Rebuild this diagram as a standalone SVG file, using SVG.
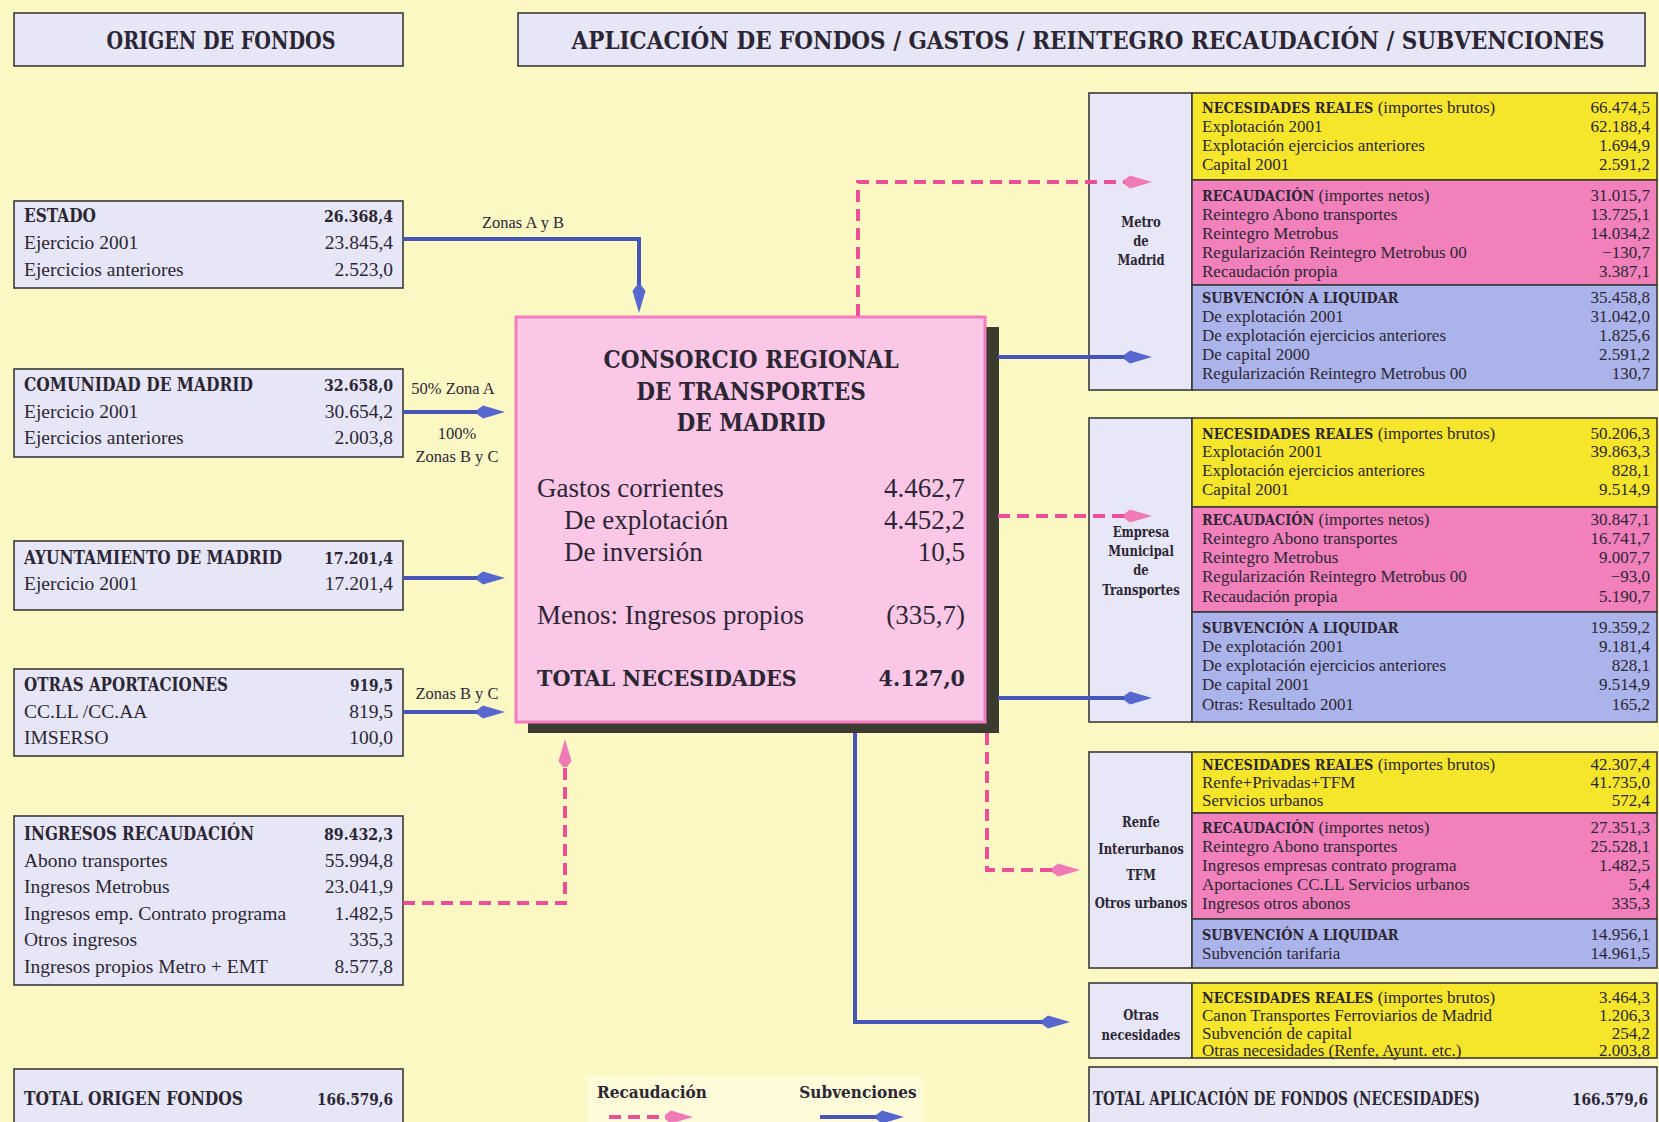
<svg xmlns="http://www.w3.org/2000/svg" width="1659" height="1122" viewBox="0 0 1659 1122">
<style>
text{fill:#2c2634}
.b{font-family:"DejaVu Serif Condensed","DejaVu Serif",serif;font-weight:bold;font-stretch:condensed}
.r{font-family:"Liberation Serif","Times New Roman",serif}
.lb{font-size:18.5px}
.lv{font-size:17.5px}
.lr{font-size:19.5px}
.rr{font-size:17px}
.rb{font-size:14.3px}
.cl{font-size:15px}
.end{text-anchor:end}
.mid{text-anchor:middle}
.box{fill:#e6e6f7;stroke:#3a3a3a;stroke-width:1.6}
.lab{fill:#e8e7f7;stroke:#3a3a3a;stroke-width:1.6}
.yel{fill:#f6e62b;stroke:#3a3a3a;stroke-width:1.6}
.pnk{fill:#f280bb;stroke:#3a3a3a;stroke-width:1.6}
.blu{fill:#aab3ea;stroke:#3a3a3a;stroke-width:1.6}
.sub{stroke:#4655b8;stroke-width:4;fill:none;marker-end:url(#hb)}
.rec{stroke:#ec4f97;stroke-width:4;fill:none;stroke-dasharray:12 7;marker-end:url(#hp)}
</style>
<defs>
<marker id="hb" markerUnits="userSpaceOnUse" viewBox="0 -8 28 16" markerWidth="28" markerHeight="16" refX="0" refY="0" orient="auto"><path d="M0,-2 L6,-6.5 L28,0 L6,6.5 L0,2 z" fill="#5668cf"/></marker>
<marker id="hp" markerUnits="userSpaceOnUse" viewBox="0 -8 28 16" markerWidth="28" markerHeight="16" refX="0" refY="0" orient="auto"><path d="M0,-2 L6,-6.5 L28,0 L6,6.5 L0,2 z" fill="#f07ab6"/></marker>
</defs>
<rect width="1659" height="1122" fill="#fcf8c4"/>

<g id="title-origen">
<rect class="box" x="14" y="13" width="389" height="53"/>
<text class="b mid" x="221" y="49" font-size="24" textLength="229" lengthAdjust="spacingAndGlyphs">ORIGEN DE FONDOS</text>
</g>
<g id="title-aplicacion">
<rect class="box" x="518" y="13" width="1127" height="53"/>
<text class="b mid" x="1088" y="49" font-size="24" textLength="1033" lengthAdjust="spacingAndGlyphs">APLICACIÓN DE FONDOS / GASTOS / REINTEGRO RECAUDACIÓN / SUBVENCIONES</text>
</g>

<g id="estado">
<rect class="box" x="14" y="201" width="389" height="87"/>
<text class="b lb" x="24" y="222" textLength="72" lengthAdjust="spacingAndGlyphs">ESTADO</text><text class="b lv end" x="393" y="222" textLength="69" lengthAdjust="spacingAndGlyphs">26.368,4</text>
<text class="r lr" x="24" y="249">Ejercicio 2001</text><text class="r lr end" x="393" y="249">23.845,4</text>
<text class="r lr" x="24" y="276">Ejercicios anteriores</text><text class="r lr end" x="393" y="276">2.523,0</text>
</g>
<g id="comunidad">
<rect class="box" x="14" y="369" width="389" height="88"/>
<text class="b lb" x="24" y="391" textLength="229" lengthAdjust="spacingAndGlyphs">COMUNIDAD DE MADRID</text><text class="b lv end" x="393" y="391" textLength="69" lengthAdjust="spacingAndGlyphs">32.658,0</text>
<text class="r lr" x="24" y="418">Ejercicio 2001</text><text class="r lr end" x="393" y="418">30.654,2</text>
<text class="r lr" x="24" y="444">Ejercicios anteriores</text><text class="r lr end" x="393" y="444">2.003,8</text>
</g>
<g id="ayuntamiento">
<rect class="box" x="14" y="541" width="389" height="69"/>
<text class="b lb" x="24" y="564" textLength="258" lengthAdjust="spacingAndGlyphs">AYUNTAMIENTO DE MADRID</text><text class="b lv end" x="393" y="564" textLength="69" lengthAdjust="spacingAndGlyphs">17.201,4</text>
<text class="r lr" x="24" y="590">Ejercicio 2001</text><text class="r lr end" x="393" y="590">17.201,4</text>
</g>
<g id="otras-aportaciones">
<rect class="box" x="14" y="669" width="389" height="87"/>
<text class="b lb" x="24" y="691" textLength="204" lengthAdjust="spacingAndGlyphs">OTRAS APORTACIONES</text><text class="b lv end" x="393" y="691" textLength="43" lengthAdjust="spacingAndGlyphs">919,5</text>
<text class="r lr" x="24" y="718">CC.LL /CC.AA</text><text class="r lr end" x="393" y="718">819,5</text>
<text class="r lr" x="24" y="744">IMSERSO</text><text class="r lr end" x="393" y="744">100,0</text>
</g>
<g id="ingresos-recaudacion">
<rect class="box" x="14" y="816" width="389" height="169"/>
<text class="b lb" x="24" y="840" textLength="230" lengthAdjust="spacingAndGlyphs">INGRESOS RECAUDACIÓN</text><text class="b lv end" x="393" y="840" textLength="69" lengthAdjust="spacingAndGlyphs">89.432,3</text>
<text class="r lr" x="24" y="867">Abono transportes</text><text class="r lr end" x="393" y="867">55.994,8</text>
<text class="r lr" x="24" y="893">Ingresos Metrobus</text><text class="r lr end" x="393" y="893">23.041,9</text>
<text class="r lr" x="24" y="920">Ingresos emp. Contrato programa</text><text class="r lr end" x="393" y="920">1.482,5</text>
<text class="r lr" x="24" y="946">Otros ingresos</text><text class="r lr end" x="393" y="946">335,3</text>
<text class="r lr" x="24" y="973">Ingresos propios Metro + EMT</text><text class="r lr end" x="393" y="973">8.577,8</text>
</g>
<g id="total-origen">
<rect class="box" x="14" y="1069" width="389" height="70"/>
<text class="b lb" x="24" y="1105" textLength="219" lengthAdjust="spacingAndGlyphs">TOTAL ORIGEN FONDOS</text><text class="b lv end" x="393" y="1105" textLength="76" lengthAdjust="spacingAndGlyphs">166.579,6</text>
</g>

<g id="consorcio">
<rect x="528" y="327" width="471" height="406" fill="#3b3b30"/>
<rect x="516" y="317" width="469" height="405" fill="#fbc7e6" stroke="#f27cbf" stroke-width="3"/>
<text class="b mid" x="751" y="368" font-size="24">CONSORCIO REGIONAL</text>
<text class="b mid" x="751" y="400" font-size="24">DE TRANSPORTES</text>
<text class="b mid" x="751" y="431" font-size="24">DE MADRID</text>
<text class="r" x="537" y="497" font-size="27">Gastos corrientes</text><text class="r end" x="965" y="497" font-size="27">4.462,7</text>
<text class="r" x="564" y="529" font-size="27">De explotación</text><text class="r end" x="965" y="529" font-size="27">4.452,2</text>
<text class="r" x="564" y="561" font-size="27">De inversión</text><text class="r end" x="965" y="561" font-size="27">10,5</text>
<text class="r" x="537" y="624" font-size="27">Menos: Ingresos propios</text><text class="r end" x="965" y="624" font-size="27">(335,7)</text>
<text class="b" x="537" y="686" font-size="23">TOTAL NECESIDADES</text><text class="b end" x="965" y="686" font-size="23">4.127,0</text>
</g>

<g id="metro">
<rect class="lab" x="1089" y="93" width="103" height="297"/>
<rect class="yel" x="1192" y="93" width="465" height="87"/>
<rect class="pnk" x="1192" y="180" width="465" height="105"/>
<rect class="blu" x="1192" y="285" width="465" height="105"/>
<text class="b cl mid" transform="translate(1141,227) scale(0.86,1)">Metro</text>
<text class="b cl mid" transform="translate(1141,246) scale(0.86,1)">de</text>
<text class="b cl mid" transform="translate(1141,265) scale(0.86,1)">Madrid</text>
<text class="r rr" x="1202" y="113"><tspan class="b rb">NECESIDADES REALES</tspan> (importes brutos)</text><text class="r rr end" x="1650" y="113">66.474,5</text>
<text class="r rr" x="1202" y="132">Explotación 2001</text><text class="r rr end" x="1650" y="132">62.188,4</text>
<text class="r rr" x="1202" y="151">Explotación ejercicios anteriores</text><text class="r rr end" x="1650" y="151">1.694,9</text>
<text class="r rr" x="1202" y="170">Capital 2001</text><text class="r rr end" x="1650" y="170">2.591,2</text>
<text class="r rr" x="1202" y="201"><tspan class="b rb">RECAUDACIÓN</tspan> (importes netos)</text><text class="r rr end" x="1650" y="201">31.015,7</text>
<text class="r rr" x="1202" y="220">Reintegro Abono transportes</text><text class="r rr end" x="1650" y="220">13.725,1</text>
<text class="r rr" x="1202" y="239">Reintegro Metrobus</text><text class="r rr end" x="1650" y="239">14.034,2</text>
<text class="r rr" x="1202" y="258">Regularización Reintegro Metrobus 00</text><text class="r rr end" x="1650" y="258">−130,7</text>
<text class="r rr" x="1202" y="277">Recaudación propia</text><text class="r rr end" x="1650" y="277">3.387,1</text>
<text class="b rb" x="1202" y="303">SUBVENCIÓN A LIQUIDAR</text><text class="r rr end" x="1650" y="303">35.458,8</text>
<text class="r rr" x="1202" y="322">De explotación 2001</text><text class="r rr end" x="1650" y="322">31.042,0</text>
<text class="r rr" x="1202" y="341">De explotación ejercicios anteriores</text><text class="r rr end" x="1650" y="341">1.825,6</text>
<text class="r rr" x="1202" y="360">De capital 2000</text><text class="r rr end" x="1650" y="360">2.591,2</text>
<text class="r rr" x="1202" y="379">Regularización Reintegro Metrobus 00</text><text class="r rr end" x="1650" y="379">130,7</text>
</g>

<g id="emt">
<rect class="lab" x="1089" y="418" width="103" height="304"/>
<rect class="yel" x="1192" y="418" width="465" height="89"/>
<rect class="pnk" x="1192" y="507" width="465" height="105"/>
<rect class="blu" x="1192" y="612" width="465" height="110"/>
<text class="b cl mid" transform="translate(1141,537) scale(0.86,1)">Empresa</text>
<text class="b cl mid" transform="translate(1141,556) scale(0.86,1)">Municipal</text>
<text class="b cl mid" transform="translate(1141,575) scale(0.86,1)">de</text>
<text class="b cl mid" transform="translate(1141,595) scale(0.86,1)">Transportes</text>
<text class="r rr" x="1202" y="439"><tspan class="b rb">NECESIDADES REALES</tspan> (importes brutos)</text><text class="r rr end" x="1650" y="439">50.206,3</text>
<text class="r rr" x="1202" y="457">Explotación 2001</text><text class="r rr end" x="1650" y="457">39.863,3</text>
<text class="r rr" x="1202" y="476">Explotación ejercicios anteriores</text><text class="r rr end" x="1650" y="476">828,1</text>
<text class="r rr" x="1202" y="495">Capital 2001</text><text class="r rr end" x="1650" y="495">9.514,9</text>
<text class="r rr" x="1202" y="525"><tspan class="b rb">RECAUDACIÓN</tspan> (importes netos)</text><text class="r rr end" x="1650" y="525">30.847,1</text>
<text class="r rr" x="1202" y="544">Reintegro Abono transportes</text><text class="r rr end" x="1650" y="544">16.741,7</text>
<text class="r rr" x="1202" y="563">Reintegro Metrobus</text><text class="r rr end" x="1650" y="563">9.007,7</text>
<text class="r rr" x="1202" y="582">Regularización Reintegro Metrobus 00</text><text class="r rr end" x="1650" y="582">−93,0</text>
<text class="r rr" x="1202" y="602">Recaudación propia</text><text class="r rr end" x="1650" y="602">5.190,7</text>
<text class="b rb" x="1202" y="633">SUBVENCIÓN A LIQUIDAR</text><text class="r rr end" x="1650" y="633">19.359,2</text>
<text class="r rr" x="1202" y="652">De explotación 2001</text><text class="r rr end" x="1650" y="652">9.181,4</text>
<text class="r rr" x="1202" y="671">De explotación ejercicios anteriores</text><text class="r rr end" x="1650" y="671">828,1</text>
<text class="r rr" x="1202" y="690">De capital 2001</text><text class="r rr end" x="1650" y="690">9.514,9</text>
<text class="r rr" x="1202" y="710">Otras: Resultado 2001</text><text class="r rr end" x="1650" y="710">165,2</text>
</g>

<g id="renfe">
<rect class="lab" x="1089" y="752" width="103" height="216"/>
<rect class="yel" x="1192" y="752" width="465" height="61"/>
<rect class="pnk" x="1192" y="813" width="465" height="106"/>
<rect class="blu" x="1192" y="919" width="465" height="49"/>
<text class="b cl mid" transform="translate(1141,827) scale(0.86,1)">Renfe</text>
<text class="b cl mid" transform="translate(1141,854) scale(0.86,1)">Interurbanos</text>
<text class="b cl mid" transform="translate(1141,880) scale(0.86,1)">TFM</text>
<text class="b cl mid" transform="translate(1141,908) scale(0.86,1)">Otros urbanos</text>
<text class="r rr" x="1202" y="770"><tspan class="b rb">NECESIDADES REALES</tspan> (importes brutos)</text><text class="r rr end" x="1650" y="770">42.307,4</text>
<text class="r rr" x="1202" y="788">Renfe+Privadas+TFM</text><text class="r rr end" x="1650" y="788">41.735,0</text>
<text class="r rr" x="1202" y="806">Servicios urbanos</text><text class="r rr end" x="1650" y="806">572,4</text>
<text class="r rr" x="1202" y="833"><tspan class="b rb">RECAUDACIÓN</tspan> (importes netos)</text><text class="r rr end" x="1650" y="833">27.351,3</text>
<text class="r rr" x="1202" y="852">Reintegro Abono transportes</text><text class="r rr end" x="1650" y="852">25.528,1</text>
<text class="r rr" x="1202" y="871">Ingresos empresas contrato programa</text><text class="r rr end" x="1650" y="871">1.482,5</text>
<text class="r rr" x="1202" y="890">Aportaciones CC.LL Servicios urbanos</text><text class="r rr end" x="1650" y="890">5,4</text>
<text class="r rr" x="1202" y="909">Ingresos otros abonos</text><text class="r rr end" x="1650" y="909">335,3</text>
<text class="b rb" x="1202" y="940">SUBVENCIÓN A LIQUIDAR</text><text class="r rr end" x="1650" y="940">14.956,1</text>
<text class="r rr" x="1202" y="959">Subvención tarifaria</text><text class="r rr end" x="1650" y="959">14.961,5</text>
</g>

<g id="otras-necesidades">
<rect class="lab" x="1089" y="983" width="103" height="75"/>
<rect class="yel" x="1192" y="983" width="465" height="75"/>
<text class="b cl mid" transform="translate(1141,1020) scale(0.86,1)">Otras</text>
<text class="b cl mid" transform="translate(1141,1040) scale(0.86,1)">necesidades</text>
<text class="r rr" x="1202" y="1003"><tspan class="b rb">NECESIDADES REALES</tspan> (importes brutos)</text><text class="r rr end" x="1650" y="1003">3.464,3</text>
<text class="r rr" x="1202" y="1021">Canon Transportes Ferroviarios de Madrid</text><text class="r rr end" x="1650" y="1021">1.206,3</text>
<text class="r rr" x="1202" y="1039">Subvención de capital</text><text class="r rr end" x="1650" y="1039">254,2</text>
<text class="r rr" x="1202" y="1056">Otras necesidades (Renfe, Ayunt. etc.)</text><text class="r rr end" x="1650" y="1056">2.003,8</text>
</g>

<g id="total-aplicacion">
<rect class="box" x="1089" y="1067" width="568" height="70"/>
<text class="b lb" x="1093" y="1105" textLength="387" lengthAdjust="spacingAndGlyphs">TOTAL APLICACIÓN DE FONDOS (NECESIDADES)</text><text class="b lv end" x="1648" y="1105" textLength="76" lengthAdjust="spacingAndGlyphs">166.579,6</text>
</g>

<g id="connectors">
<path class="sub" d="M403,239 H639 V285"/>
<path class="sub" d="M403,412 H477"/>
<path class="sub" d="M403,578 H477"/>
<path class="sub" d="M403,712 H477"/>
<path class="sub" d="M998,357 H1124"/>
<path class="sub" d="M998,698 H1124"/>
<path class="sub" d="M855,733 V1022 H1042"/>
<path class="rec" d="M403,903 H565 V767"/>
<path class="rec" d="M858,316 V182 H1124"/>
<path class="rec" d="M998,516 H1124"/>
<path class="rec" d="M987,733 V870 H1052"/>
</g>

<g id="edge-labels" class="r" font-size="16.5">
<text class="mid" x="523" y="228">Zonas A y B</text>
<text class="mid" x="453" y="394">50% Zona A</text>
<text class="mid" x="457" y="439">100%</text>
<text class="mid" x="457" y="462">Zonas B y C</text>
<text class="mid" x="457" y="699">Zonas B y C</text>
</g>

<g id="legend">
<rect x="587" y="1076" width="336" height="50" fill="#fdfbd8"/>
<text class="b mid" x="652" y="1098" font-size="17">Recaudación</text>
<text class="b mid" x="858" y="1098" font-size="17">Subvenciones</text>
<path class="rec" d="M609,1117 H665"/>
<path class="sub" d="M820,1117 H876"/>
</g>
</svg>
